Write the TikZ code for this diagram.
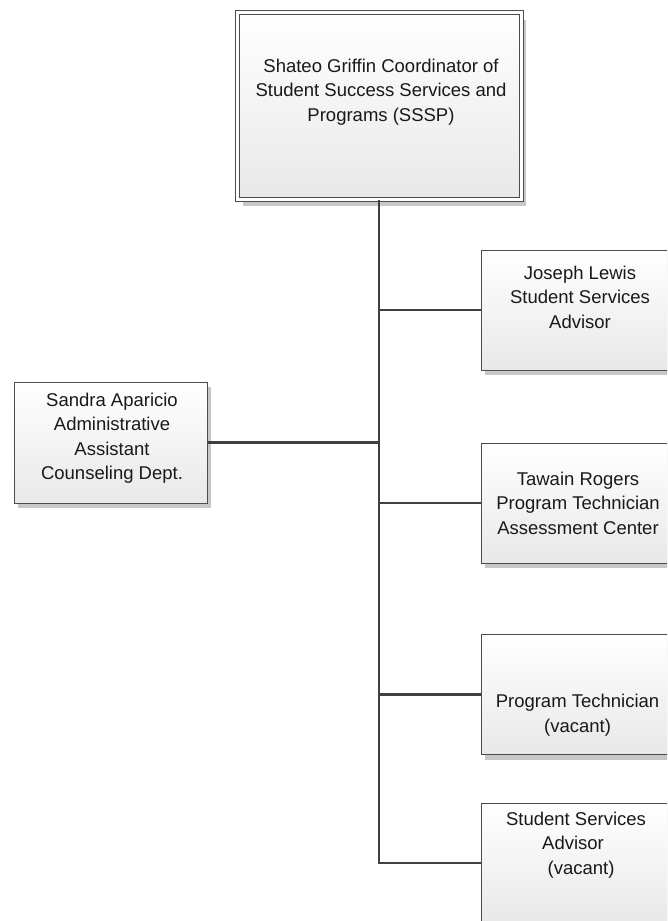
\documentclass[tikz,border=0pt]{standalone}
\usepackage{fontspec}
\setmainfont{Liberation Sans}
\usetikzlibrary{shadows}
\tikzset{>=latex}

\begin{document}
\begin{tikzpicture}[x=1pt,y=-1pt,
  staff/.style={draw=black!70,line width=1pt,top color=white,bottom color=black!9,
    minimum width=196pt,minimum height=120pt,
    drop shadow={shadow xshift=4pt,shadow yshift=-5pt,fill=black!22,opacity=1}},
  chief/.style={draw=black!70,line width=1pt,double=white,double distance=3pt,
    top color=white,bottom color=black!9,minimum width=283.5pt,minimum height=186.5pt,
    drop shadow={shadow xshift=5pt,shadow yshift=-7pt,fill=black!22,opacity=1}},
  stafftext/.style={align=center,text=black!90,font=\fontsize{18.5}{24.5}\selectfont},
  wire/.style={draw=black!75,line width=2.2pt}]
  \clip (0,0) rectangle (667,921);
  % boxes
  \node[chief] (coord)   at (379.25,105.75) {};
  \node[staff] (sandra)  at (110.5,442.5) [minimum width=193pt,minimum height=121pt] {};
  \node[staff] (lewis)   at (579,310)   {};
  \node[staff] (rogers)  at (579,503)   {};
  \node[staff] (progtech) at (579,694.5) {};
  \node[staff] (advisor) at (579,863)   {};
  % texts
  \node[stafftext] (coord text)    at (381,92)  {Shateo Griffin Coordinator of\\Student Success Services and\\Programs (SSSP)};
  \node[stafftext] (sandra text)   at (112,438) {Sandra Aparicio\\Administrative\\Assistant\\Counseling Dept.};
  \node[stafftext] (lewis text)    at (580,297) {Joseph Lewis\\Student Services\\Advisor};
  \node[stafftext] (rogers text)   at (578,503) {Tawain Rogers\\Program Technician\\Assessment Center};
  \node[stafftext] (progtech text) at (577.5,715) {Program Technician\\(vacant)};
  \node[stafftext] (advisor text)  at (576,845) {Student Services\\\mbox{Advisor\hspace{6pt}}\\\mbox{\hspace{10pt}(vacant)}};
  % connectors
  \draw[wire] (coord.south) |- (advisor.west);
  \draw[wire] (coord.south |- lewis.west)    -- (lewis.west);
  \draw[wire] (coord.south |- sandra.east)   -- (sandra.east);
  \draw[wire] (coord.south |- rogers.west)   -- (rogers.west);
  \draw[wire] (coord.south |- progtech.west) -- (progtech.west);
\end{tikzpicture}
\end{document}
